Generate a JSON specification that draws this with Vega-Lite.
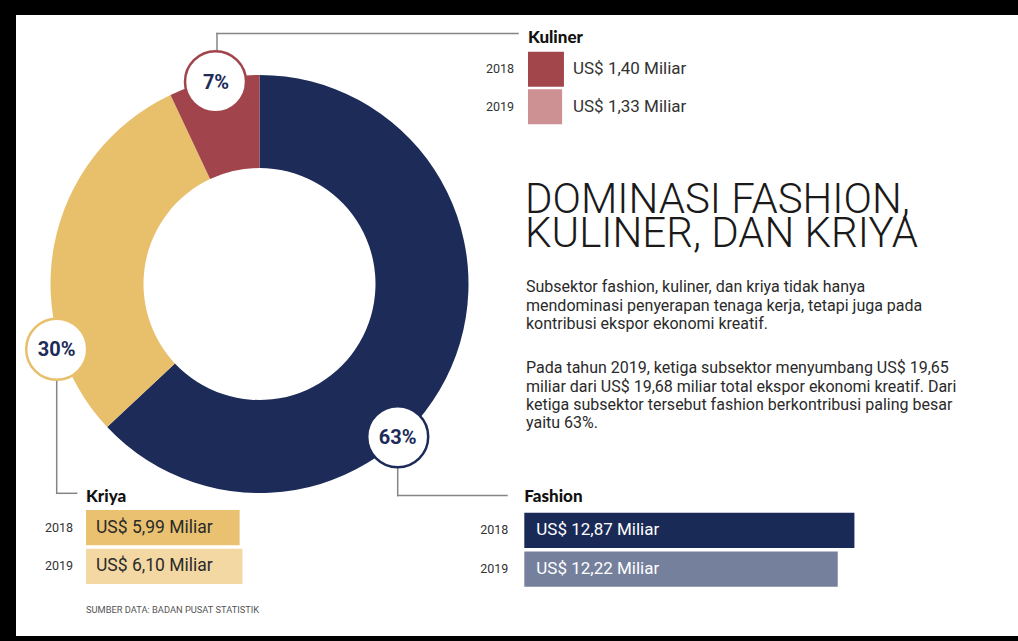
{
  "$schema": "https://vega.github.io/schema/vega-lite/v6.json",
  "width": 1002,
  "height": 621,
  "autosize": {"type": "none"},
  "padding": {"left": 16, "top": 15, "right": 0, "bottom": 5},
  "background": "#000000",
  "config": {"view": {"fill": "#ffffff", "stroke": null}, "font": "Roboto"},
  "datasets": {
    "sektor": [
      {"sektor": "Fashion", "persen": 63, "label": "63%"},
      {"sektor": "Kriya", "persen": 30, "label": "30%"},
      {"sektor": "Kuliner", "persen": 7, "label": "7%"}
    ],
    "ekspor": [
      {"sektor": "Fashion", "tahun": "2018", "nilai": 12.87, "teks": "US$ 12,87 Miliar"},
      {"sektor": "Fashion", "tahun": "2019", "nilai": 12.22, "teks": "US$ 12,22 Miliar"},
      {"sektor": "Kriya", "tahun": "2018", "nilai": 5.99, "teks": "US$ 5,99 Miliar"},
      {"sektor": "Kriya", "tahun": "2019", "nilai": 6.10, "teks": "US$ 6,10 Miliar"},
      {"sektor": "Kuliner", "tahun": "2018", "nilai": 1.40, "teks": "US$ 1,40 Miliar"},
      {"sektor": "Kuliner", "tahun": "2019", "nilai": 1.33, "teks": "US$ 1,33 Miliar"}
    ],
    "narasi": [
      {"bagian": "judul1", "isi": "DOMINASI FASHION,"},
      {"bagian": "judul2", "isi": "KULINER, DAN KRIYA"},
      {"bagian": "p1", "isi": ["Subsektor fashion, kuliner, dan kriya tidak hanya", "mendominasi penyerapan tenaga kerja, tetapi juga pada", "kontribusi ekspor ekonomi kreatif."]},
      {"bagian": "p2", "isi": ["Pada tahun 2019, ketiga subsektor menyumbang US$ 19,65", "miliar dari US$ 19,68 miliar total ekspor ekonomi kreatif. Dari", "ketiga subsektor tersebut fashion berkontribusi paling besar", "yaitu 63%."]},
      {"bagian": "sumber", "isi": "SUMBER DATA: BADAN PUSAT STATISTIK"}
    ]
  },
  "resolve": {"scale": {"x": "independent", "y": "independent", "color": "independent", "theta": "independent"}},
  "layer": [
    {
      "data": {"name": "sektor"},
      "mark": {"type": "arc", "x": 243.5, "y": 269, "outerRadius": 209, "innerRadius": 116},
      "encoding": {
        "theta": {"field": "persen", "type": "quantitative", "stack": true},
        "color": {"field": "sektor", "type": "nominal", "scale": {"domain": ["Fashion", "Kriya", "Kuliner"], "range": ["#1c2b58", "#e8c06c", "#a1444b"]}, "legend": null}
      }
    },
    {
      "data": {"name": "sektor"},
      "transform": [{"filter": "datum.sektor === 'Kuliner'"}],
      "layer": [
        {"mark": {"type": "rule", "color": "#858585", "strokeWidth": 1.5, "strokeCap": "square"}, "encoding": {"x": {"value": 201}, "y": {"value": 18.5}, "y2": {"value": 36}}},
        {"mark": {"type": "rule", "color": "#858585", "strokeWidth": 1.5, "strokeCap": "square"}, "encoding": {"x": {"value": 201}, "x2": {"value": 502}, "y": {"value": 18.5}}},
        {"mark": {"type": "point", "shape": "circle", "filled": true, "fill": "#ffffff", "stroke": "#a1444b", "strokeWidth": 2.5, "size": 3721, "opacity": 1}, "encoding": {"x": {"value": 199.5}, "y": {"value": 66.7}}},
        {"mark": {"type": "text", "fontWeight": "bold", "fontSize": 20, "color": "#1c2b58"}, "encoding": {"x": {"value": 200}, "y": {"value": 67.5}, "text": {"field": "label"}}}
      ]
    },
    {
      "data": {"name": "sektor"},
      "transform": [{"filter": "datum.sektor === 'Kriya'"}],
      "layer": [
        {"mark": {"type": "rule", "color": "#858585", "strokeWidth": 1.5, "strokeCap": "square"}, "encoding": {"x": {"value": 40.7}, "y": {"value": 365}, "y2": {"value": 478.3}}},
        {"mark": {"type": "rule", "color": "#858585", "strokeWidth": 1.5, "strokeCap": "square"}, "encoding": {"x": {"value": 40.7}, "x2": {"value": 60.7}, "y": {"value": 478.3}}},
        {"mark": {"type": "point", "shape": "circle", "filled": true, "fill": "#ffffff", "stroke": "#e8c06c", "strokeWidth": 2.5, "size": 3721, "opacity": 1}, "encoding": {"x": {"value": 40.7}, "y": {"value": 334.2}}},
        {"mark": {"type": "text", "fontWeight": "bold", "fontSize": 20, "color": "#1c2b58"}, "encoding": {"x": {"value": 40.7}, "y": {"value": 335}, "text": {"field": "label"}}}
      ]
    },
    {
      "data": {"name": "sektor"},
      "transform": [{"filter": "datum.sektor === 'Fashion'"}],
      "layer": [
        {"mark": {"type": "rule", "color": "#858585", "strokeWidth": 1.5, "strokeCap": "square"}, "encoding": {"x": {"value": 381.7}, "y": {"value": 453}, "y2": {"value": 480.5}}},
        {"mark": {"type": "rule", "color": "#858585", "strokeWidth": 1.5, "strokeCap": "square"}, "encoding": {"x": {"value": 381.7}, "x2": {"value": 491}, "y": {"value": 480.5}}},
        {"mark": {"type": "point", "shape": "circle", "filled": true, "fill": "#ffffff", "stroke": "#1c2b58", "strokeWidth": 2.5, "size": 3721, "opacity": 1}, "encoding": {"x": {"value": 381.7}, "y": {"value": 421.7}}},
        {"mark": {"type": "text", "fontWeight": "bold", "fontSize": 20, "color": "#1c2b58"}, "encoding": {"x": {"value": 381.7}, "y": {"value": 422.5}, "text": {"field": "label"}}}
      ]
    },
    {
      "data": {"name": "ekspor"},
      "transform": [{"filter": "datum.sektor === 'Fashion'"}],
      "encoding": {
        "y": {"field": "tahun", "type": "ordinal", "scale": {"domain": ["2018", "2019"], "range": [497.7, 571.7], "paddingInner": 0.09, "paddingOuter": 0}, "axis": null}
      },
      "layer": [
        {"mark": {"type": "bar"}, "encoding": {
          "x": {"field": "nilai", "type": "quantitative", "scale": {"domain": [0, 10], "range": [508.3, 764.8], "nice": false, "zero": true}, "axis": null},
          "color": {"field": "tahun", "type": "ordinal", "scale": {"domain": ["2018", "2019"], "range": ["#1a2a57", "#75809d"]}, "legend": null}}},
        {"mark": {"type": "text", "align": "left", "dx": 12, "fontSize": 17, "color": "#ffffff"}, "encoding": {"x": {"datum": 0, "type": "quantitative"}, "text": {"field": "teks"}}},
        {"mark": {"type": "text", "align": "right", "dx": -16, "fontSize": 12.5, "color": "#333333"}, "encoding": {"x": {"datum": 0, "type": "quantitative"}, "text": {"field": "tahun"}}},
        {"transform": [{"filter": "datum.tahun === '2018'"}], "mark": {"type": "text", "align": "left", "baseline": "alphabetic", "dy": -28.6, "font": "Lato", "fontWeight": 900, "fontSize": 17, "color": "#111111"}, "encoding": {"x": {"datum": 0, "type": "quantitative"}, "text": {"field": "sektor"}}}
      ]
    },
    {
      "data": {"name": "ekspor"},
      "transform": [{"filter": "datum.sektor === 'Kriya'"}],
      "encoding": {
        "y": {"field": "tahun", "type": "ordinal", "scale": {"domain": ["2018", "2019"], "range": [495, 569], "paddingInner": 0.09, "paddingOuter": 0}, "axis": null}
      },
      "layer": [
        {"mark": {"type": "bar"}, "encoding": {
          "x": {"field": "nilai", "type": "quantitative", "scale": {"domain": [0, 10], "range": [70, 326.5], "nice": false, "zero": true}, "axis": null},
          "color": {"field": "tahun", "type": "ordinal", "scale": {"domain": ["2018", "2019"], "range": ["#e9c170", "#f3d8a3"]}, "legend": null}}},
        {"mark": {"type": "text", "align": "left", "dx": 10, "fontSize": 17.5, "color": "#2a2a2a"}, "encoding": {"x": {"datum": 0, "type": "quantitative"}, "text": {"field": "teks"}}},
        {"mark": {"type": "text", "align": "right", "dx": -13, "fontSize": 12.5, "color": "#333333"}, "encoding": {"x": {"datum": 0, "type": "quantitative"}, "text": {"field": "tahun"}}},
        {"transform": [{"filter": "datum.tahun === '2018'"}], "mark": {"type": "text", "align": "left", "baseline": "alphabetic", "dy": -25.9, "font": "Lato", "fontWeight": 900, "fontSize": 17, "color": "#111111"}, "encoding": {"x": {"datum": 0, "type": "quantitative"}, "text": {"field": "sektor"}}}
      ]
    },
    {
      "data": {"name": "ekspor"},
      "transform": [{"filter": "datum.sektor === 'Kuliner'"}],
      "encoding": {
        "y": {"field": "tahun", "type": "ordinal", "scale": {"domain": ["2018", "2019"], "range": [36.7, 109.3], "paddingInner": 0.069, "paddingOuter": 0}, "axis": null}
      },
      "layer": [
        {"mark": {"type": "bar"}, "encoding": {
          "x": {"field": "nilai", "type": "quantitative", "scale": {"domain": [0, 10], "range": [512, 768.5], "nice": false, "zero": true}, "axis": null},
          "color": {"field": "tahun", "type": "ordinal", "scale": {"domain": ["2018", "2019"], "range": ["#a3464c", "#cd9193"]}, "legend": null}}},
        {"mark": {"type": "text", "align": "left", "dx": 45, "fontSize": 17, "color": "#333333"}, "encoding": {"x": {"datum": 0, "type": "quantitative"}, "text": {"field": "teks"}}},
        {"mark": {"type": "text", "align": "right", "dx": -14, "fontSize": 12.5, "color": "#333333"}, "encoding": {"x": {"datum": 0, "type": "quantitative"}, "text": {"field": "tahun"}}},
        {"transform": [{"filter": "datum.tahun === '2018'"}], "mark": {"type": "text", "align": "left", "baseline": "alphabetic", "dy": -26.5, "font": "Lato", "fontWeight": 900, "fontSize": 17, "color": "#111111"}, "encoding": {"x": {"datum": 0, "type": "quantitative"}, "text": {"field": "sektor"}}}
      ]
    },
    {
      "data": {"name": "narasi"},
      "transform": [{"filter": "datum.bagian === 'judul1'"}],
      "mark": {"type": "text", "align": "left", "baseline": "alphabetic", "fontSize": 42, "fontWeight": 300, "color": "#1a1a1a"},
      "encoding": {"x": {"value": 509}, "y": {"value": 198.3}, "text": {"field": "isi"}}
    },
    {
      "data": {"name": "narasi"},
      "transform": [{"filter": "datum.bagian === 'judul2'"}],
      "mark": {"type": "text", "align": "left", "baseline": "alphabetic", "fontSize": 42, "fontWeight": 300, "color": "#1a1a1a"},
      "encoding": {"x": {"value": 509}, "y": {"value": 232.3}, "text": {"field": "isi"}}
    },
    {
      "data": {"name": "narasi"},
      "transform": [{"filter": "datum.bagian === 'p1'"}],
      "mark": {"type": "text", "align": "left", "baseline": "alphabetic", "fontSize": 16, "lineHeight": 18.9, "color": "#2a2a2a"},
      "encoding": {"x": {"value": 510}, "y": {"value": 276.7}, "text": {"field": "isi"}}
    },
    {
      "data": {"name": "narasi"},
      "transform": [{"filter": "datum.bagian === 'p2'"}],
      "mark": {"type": "text", "align": "left", "baseline": "alphabetic", "fontSize": 16, "lineHeight": 18.4, "color": "#2a2a2a"},
      "encoding": {"x": {"value": 510}, "y": {"value": 358.3}, "text": {"field": "isi"}}
    },
    {
      "data": {"name": "narasi"},
      "transform": [{"filter": "datum.bagian === 'sumber'"}],
      "mark": {"type": "text", "align": "left", "baseline": "alphabetic", "fontSize": 9.3, "color": "#555555"},
      "encoding": {"x": {"value": 70}, "y": {"value": 597.7}, "text": {"field": "isi"}}
    }
  ]
}
